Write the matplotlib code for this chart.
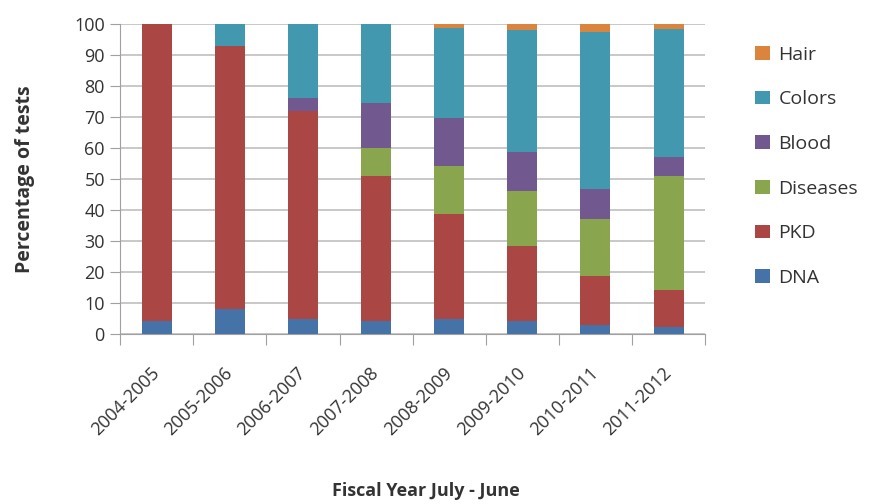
import matplotlib
matplotlib.use("Agg")
import matplotlib.pyplot as plt
import numpy as np

# ====== DATA ======
years = ["2004-2005", "2005-2006", "2006-2007", "2007-2008",
         "2008-2009", "2009-2010", "2010-2011", "2011-2012"]
dna      = [4.3, 8.1, 4.9, 4.1, 4.9, 4.1, 2.9, 2.4]
pkd      = [95.7, 84.9, 67.2, 46.9, 34.0, 24.5, 16.0, 11.7]
diseases = [0, 0, 0, 9.0, 15.2, 17.7, 18.4, 37.0]
blood    = [0, 0, 4.1, 14.6, 15.6, 12.6, 9.5, 6.2]
colors_  = [0, 7.0, 23.8, 25.4, 29.2, 39.2, 50.7, 41.1]
hair     = [0, 0, 0, 0, 1.1, 1.9, 2.5, 1.6]

series = [("DNA", dna, "#4572A7"),
          ("PKD", pkd, "#AA4643"),
          ("Diseases", diseases, "#89A54E"),
          ("Blood", blood, "#71588F"),
          ("Colors", colors_, "#4198AF"),
          ("Hair", hair, "#DB843D")]
# ==================

plt.rcParams["font.family"] = ["Open Sans", "DejaVu Sans"]

fig = plt.figure(figsize=(8.77, 5.04), dpi=100)
ax = fig.add_axes([0.137, 0.337, 0.667, 0.615])

x = np.arange(len(years))
bottom = np.zeros(len(years))
handles = []
for name, vals, col in series:
    v = np.array(vals, dtype=float)
    h = ax.bar(x, v, 0.41, bottom=bottom, color=col, label=name, zorder=3)
    handles.append(h)
    bottom += v

ax.set_xlim(-0.5, len(years) - 0.5)
ax.set_ylim(0, 100)
ax.set_yticks(range(0, 101, 10))
ax.yaxis.grid(True, color="#bfbfbf", linewidth=1.2, zorder=0)
ax.set_axisbelow(True)

# category ticks at boundaries, labels at centres
ax.set_xticks(np.arange(-0.5, len(years)), minor=False)
ax.set_xticklabels([""] * (len(years) + 1))
ax.set_xticks(x, minor=True)
ax.set_xticklabels(years, minor=True, rotation=45, ha="right", va="center",
                   rotation_mode="anchor", fontsize=13, color="#333333")
ax.tick_params(axis="x", which="minor", length=0, pad=26)
ax.tick_params(axis="x", which="major", length=8, color="#a0a0a0")
ax.tick_params(axis="y", length=7, pad=4, color="#a0a0a0", labelsize=13,
               labelcolor="#333333")

for s in ["top", "right"]:
    ax.spines[s].set_visible(False)
for s in ["left", "bottom"]:
    ax.spines[s].set_color("#a0a0a0")

fig.text(0.0285, 0.645, "Percentage of tests", rotation=90, ha="center",
         va="center", fontsize=14, fontweight="bold", color="#333333")
fig.text(0.486, 0.026, "Fiscal Year July - June", ha="center", va="center",
         fontsize=13, fontweight="bold", color="#333333")

fig.legend(handles[::-1], [s[0] for s in series][::-1], loc="upper left",
           bbox_to_anchor=(0.841, 0.944), frameon=False, fontsize=14,
           handlelength=0.75, handleheight=0.7, handletextpad=0.45,
           labelspacing=1.37, labelcolor="#333333")

fig.savefig("out.png", dpi=100)
